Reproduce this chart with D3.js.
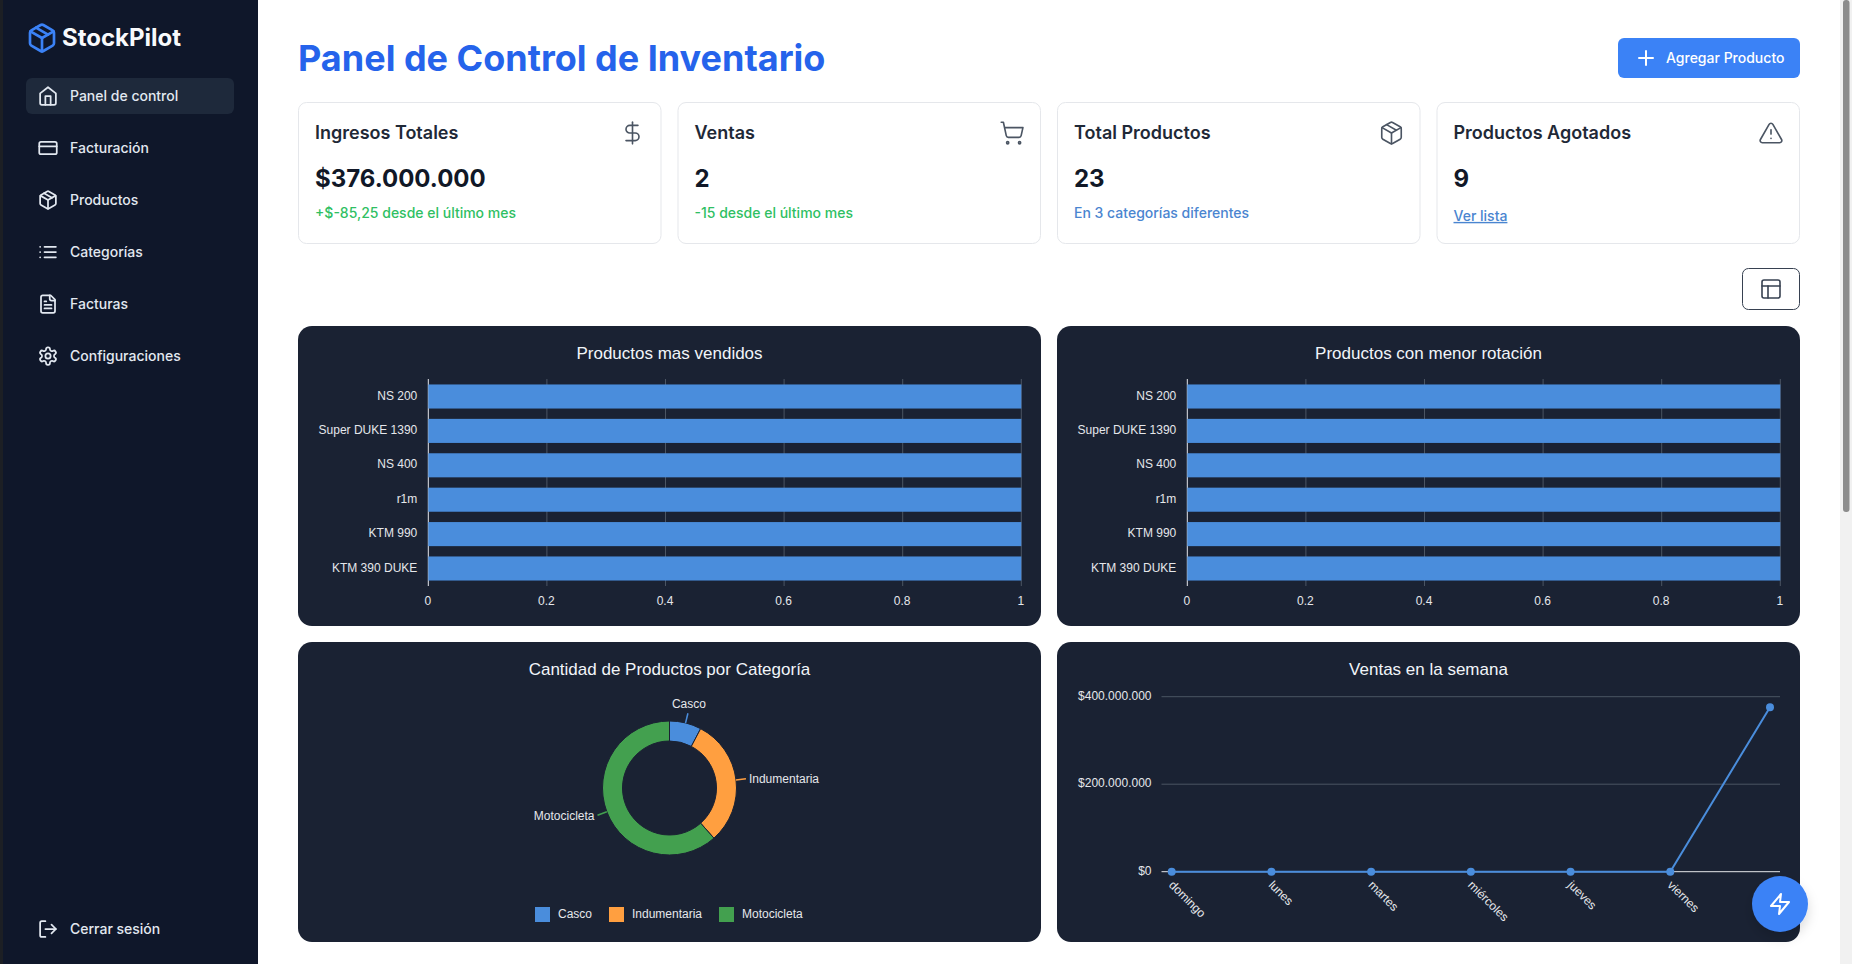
<!DOCTYPE html>
<html>
<head>
<meta charset="utf-8">
<title>StockPilot</title>
<script src="https://cdn.jsdelivr.net/npm/d3@7"></script>
<style>
  html, body { margin: 0; padding: 0; background: #fff; overflow: hidden; }
  svg { display: block; }
  text { font-family: Inter, sans-serif; }
  .chart text { font-family: "Liberation Sans", Arial, sans-serif; }
  .icon path { fill: none; stroke-linecap: round; stroke-linejoin: round; }
</style>
</head>
<body>
<svg id="page" width="1852" height="964"></svg>
<script>
// ---- data ----
const navLabels = ["Panel de control", "Facturación", "Productos", "Categorías", "Facturas", "Configuraciones"];
const navIcons = ["home", "card", "box", "list", "file", "gear"];

const cardTitles = ["Ingresos Totales", "Ventas", "Total Productos", "Productos Agotados"];
const cardValues = ["$376.000.000", "2", "23", "9"];
const cardNotes = ["+$-85,25 desde el último mes", "-15 desde el último mes", "En 3 categorías diferentes", "Ver lista"];
const cardIcons = ["dollar", "cart", "box", "alert"];

const products = ["NS 200", "Super DUKE 1390", "NS 400", "r1m", "KTM 990", "KTM 390 DUKE"];
const topSold = [1, 1, 1, 1, 1, 1];
const lowRotation = [1, 1, 1, 1, 1, 1];
const barTicks = [0, 0.2, 0.4, 0.6, 0.8, 1];

const categories = ["Casco", "Indumentaria", "Motocicleta"];
const categoryCounts = [2, 8, 16];

const weekDays = ["domingo", "lunes", "martes", "miércoles", "jueves", "viernes", "sábado"];
const weekSales = [0, 0, 0, 0, 0, 0, 376000000];
const salesTicks = [0, 200000000, 400000000];

// lucide style icons, 24x24 box
const ICONS = {
  home: ["m3 9 9-7 9 7v11a2 2 0 0 1-2 2H5a2 2 0 0 1-2-2z", "M9 22V12h6v10"],
  card: ["M4 5h16a2 2 0 0 1 2 2v10a2 2 0 0 1-2 2H4a2 2 0 0 1-2-2V7a2 2 0 0 1 2-2z", "M2 10h20"],
  box: ["m7.5 4.27 9 5.15", "M21 8a2 2 0 0 0-1-1.73l-7-4a2 2 0 0 0-2 0l-7 4A2 2 0 0 0 3 8v8a2 2 0 0 0 1 1.73l7 4a2 2 0 0 0 2 0l7-4A2 2 0 0 0 21 16Z", "m3.3 7 8.7 5 8.7-5", "M12 22V12"],
  list: ["M8 6h13", "M8 12h13", "M8 18h13", "M3 6h.01", "M3 12h.01", "M3 18h.01"],
  file: ["M15 2H6a2 2 0 0 0-2 2v16a2 2 0 0 0 2 2h12a2 2 0 0 0 2-2V7Z", "M14 2v4a2 2 0 0 0 2 2h4", "M10 9H8", "M16 13H8", "M16 17H8"],
  gear: ["M12.22 2h-.44a2 2 0 0 0-2 2v.18a2 2 0 0 1-1 1.73l-.43.25a2 2 0 0 1-2 0l-.15-.08a2 2 0 0 0-2.73.73l-.22.38a2 2 0 0 0 .73 2.73l.15.1a2 2 0 0 1 1 1.72v.51a2 2 0 0 1-1 1.74l-.15.09a2 2 0 0 0-.73 2.73l.22.38a2 2 0 0 0 2.73.73l.15-.08a2 2 0 0 1 2 0l.43.25a2 2 0 0 1 1 1.73V20a2 2 0 0 0 2 2h.44a2 2 0 0 0 2-2v-.18a2 2 0 0 1 1-1.73l.43-.25a2 2 0 0 1 2 0l.15.08a2 2 0 0 0 2.73-.73l.22-.39a2 2 0 0 0-.73-2.73l-.15-.08a2 2 0 0 1-1-1.74v-.5a2 2 0 0 1 1-1.74l.15-.09a2 2 0 0 0 .73-2.73l-.22-.38a2 2 0 0 0-2.73-.73l-.15.08a2 2 0 0 1-2 0l-.43-.25a2 2 0 0 1-1-1.73V4a2 2 0 0 0-2-2z", "M9 12a3 3 0 1 0 6 0a3 3 0 1 0-6 0"],
  logout: ["M9 21H5a2 2 0 0 1-2-2V5a2 2 0 0 1 2-2h4", "m16 17 5-5-5-5", "M21 12H9"],
  dollar: ["M12 2v20", "M17 5H9.5a3.5 3.5 0 0 0 0 7h5a3.5 3.5 0 0 1 0 7H6"],
  cart: ["M7 21a1 1 0 1 0 2 0a1 1 0 1 0-2 0", "M18 21a1 1 0 1 0 2 0a1 1 0 1 0-2 0", "M2.05 2.05h2l2.66 12.42a2 2 0 0 0 2 1.58h9.78a2 2 0 0 0 1.95-1.57l1.65-7.43H5.12"],
  alert: ["m21.73 18-8-14a2 2 0 0 0-3.48 0l-8 14A2 2 0 0 0 4 21h16a2 2 0 0 0 1.73-3", "M12 9v4", "M12 17h.01"],
  plus: ["M5 12h14", "M12 5v14"],
  layout: ["M5 3h14a2 2 0 0 1 2 2v14a2 2 0 0 1-2 2H5a2 2 0 0 1-2-2V5a2 2 0 0 1 2-2z", "M3 9h18", "M9 21V9"],
  zap: ["M13 2 3 14h9l-1 8 10-12h-9l1-8z"]
};

const BLUE = "#4a8ddc", ORANGE = "#ff9f40", GREEN = "#43a04f";
const PANEL = "#1a2233", LABEL = "#e5e7eb", GRID = "#4b5563";

const svg = d3.select("#page");

function icon(parent, name, cx, cy, color, size, sw) {
  const k = (size || 24) / 24;
  const g = parent.append("g")
    .attr("class", "icon")
    .attr("transform", `translate(${cx - 12 * k},${cy - 12 * k}) scale(${k})`);
  g.selectAll("path").data(ICONS[name]).enter().append("path")
    .attr("d", d => d)
    .attr("stroke", color)
    .attr("stroke-width", sw || 2);
  return g;
}

// ---- sidebar ----
svg.append("rect").attr("width", 3).attr("height", 964).attr("fill", "#1c1f24");
svg.append("rect").attr("x", 3).attr("width", 255).attr("height", 964).attr("fill", "#0f172a");
icon(svg, "box", 42, 38, "#3b82f6", 32, 2);
svg.append("text").attr("x", 62).attr("y", 46).attr("font-size", 24).attr("font-weight", 700)
  .attr("fill", "#f8fafc").text("StockPilot");
svg.append("rect").attr("x", 26).attr("y", 78).attr("width", 208).attr("height", 36).attr("rx", 6).attr("fill", "#1e293b");

const navY = d3.scalePoint().domain(navLabels).range([96, 356]);
navLabels.forEach((d, i) => {
  icon(svg, navIcons[i], 48, navY(d), "#e2e8f0", 21, 2);
  svg.append("text").attr("x", 70).attr("y", navY(d)).attr("dy", "0.35em")
    .attr("font-size", 14).attr("font-weight", 500).attr("fill", "#e2e8f0").text(d);
});
icon(svg, "logout", 48, 929, "#e2e8f0", 21, 2);
svg.append("text").attr("x", 70).attr("y", 929).attr("dy", "0.35em")
  .attr("font-size", 14).attr("font-weight", 500).attr("fill", "#e2e8f0").text("Cerrar sesión");

// ---- header ----
svg.append("text").attr("x", 298).attr("y", 71).attr("font-size", 36).attr("font-weight", 700)
  .attr("fill", "#2563eb").text("Panel de Control de Inventario");
svg.append("rect").attr("x", 1618).attr("y", 38).attr("width", 182).attr("height", 40).attr("rx", 6).attr("fill", "#3b82f6");
icon(svg, "plus", 1646, 58, "#fff", 24, 2);
svg.append("text").attr("x", 1666).attr("y", 58).attr("dy", "0.35em").attr("font-size", 14).attr("font-weight", 500)
  .attr("fill", "#fff").text("Agregar Producto");

// ---- stat cards ----
const cardX = d3.scaleBand().domain(cardTitles).range([298, 1800]).paddingInner(16 / 379.5);
cardTitles.forEach((t, i) => {
  const x = cardX(t), w = cardX.bandwidth();
  const g = svg.append("g").attr("transform", `translate(${x},0)`);
  g.append("rect").attr("x", 0.5).attr("y", 102.5).attr("width", w - 1).attr("height", 141).attr("rx", 8)
    .attr("fill", "#fff").attr("stroke", "#e5e7eb");
  g.append("text").attr("x", 17).attr("y", 133).attr("dy", "0.35em").attr("font-size", 18).attr("font-weight", 600)
    .attr("fill", "#1f2937").text(t);
  g.append("text").attr("x", 17).attr("y", 187).attr("font-size", 24).attr("font-weight", 700)
    .attr("fill", "#111827").text(cardValues[i]);
  const link = i === 3;
  g.append("text").attr("x", 17).attr("y", link ? 216 : 213).attr("dy", "0.35em").attr("font-size", 14)
    .attr("font-weight", 450)
    .attr("fill", i < 2 ? "#2fbf63" : "#4a85d0")
    .attr("text-decoration", link ? "underline" : null).text(cardNotes[i]);
  icon(g, cardIcons[i], w - 29, 133, "#4b5563", 26, 1.5);
});

// view toggle
svg.append("rect").attr("x", 1742.5).attr("y", 268.5).attr("width", 57).attr("height", 41).attr("rx", 6)
  .attr("fill", "#fff").attr("stroke", "#374151");
icon(svg, "layout", 1771, 289, "#374151", 24, 1.6);

// ---- chart panels ----
function panel(x, y, title) {
  const g = svg.append("g").attr("class", "chart").attr("transform", `translate(${x},${y})`);
  g.append("rect").attr("width", 743).attr("height", 300).attr("rx", 14).attr("fill", PANEL);
  g.append("text").attr("x", 371.5).attr("y", 27).attr("dy", "0.35em").attr("text-anchor", "middle")
    .attr("font-size", 17).attr("fill", "#f1f5f9").text(title);
  return g;
}

function barChart(x, y, title, values) {
  const g = panel(x, y, title);
  const xScale = d3.scaleLinear().domain([0, 1]).range([130.3, 723.3]);
  const yScale = d3.scaleBand().domain(products).range([53.3, 259.7]).paddingInner(0.3).paddingOuter(0.15);

  // grid under the bars
  g.append("g").selectAll("line").data(barTicks).enter().append("line")
    .attr("x1", d => xScale(d)).attr("x2", d => xScale(d))
    .attr("y1", 53).attr("y2", 260)
    .attr("stroke", d => d === 0 ? LABEL : GRID);

  g.selectAll(".bar").data(values).enter().append("rect")
    .attr("class", "bar")
    .attr("x", xScale(0))
    .attr("y", (d, i) => yScale(products[i]))
    .attr("width", d => xScale(d) - xScale(0))
    .attr("height", yScale.bandwidth())
    .attr("fill", BLUE);

  const ya = g.append("g").attr("transform", "translate(130.3,-0.8)")
    .call(d3.axisLeft(yScale).tickSize(0).tickPadding(11));
  ya.select(".domain").remove();
  ya.selectAll("text").attr("font-size", 12).attr("fill", LABEL);

  const xa = g.append("g").attr("transform", "translate(-1,260.8)")
    .call(d3.axisBottom(xScale).tickValues(barTicks).tickFormat(d3.format("")).tickSize(0).tickPadding(10));
  xa.select(".domain").remove();
  xa.selectAll("text").attr("font-size", 12).attr("fill", LABEL);
}

barChart(298, 326, "Productos mas vendidos", topSold);
barChart(1057, 326, "Productos con menor rotación", lowRotation);

// donut
function donutChart(x, y, title) {
  const g = panel(x, y, title);
  const color = d3.scaleOrdinal().domain(categories).range([BLUE, ORANGE, GREEN]);
  const R = 67, cx = 371.5, cy = 146;
  const pie = d3.pie().sort(null)(categoryCounts);
  const arc = d3.arc().innerRadius(47).outerRadius(R);
  const c = g.append("g").attr("transform", `translate(${cx},${cy})`);
  c.selectAll("path").data(pie).enter().append("path")
    .attr("d", arc)
    .attr("fill", (d, i) => color(categories[i]))
    .attr("stroke", PANEL);

  pie.forEach((d, i) => {
    const a = (d.startAngle + d.endAngle) / 2, sx = Math.sin(a), sy = -Math.cos(a);
    c.append("line")
      .attr("x1", sx * R).attr("y1", sy * R)
      .attr("x2", sx * (R + 10)).attr("y2", sy * (R + 10))
      .attr("stroke", color(categories[i])).attr("stroke-width", 1.5);
    const top = Math.abs(sx) < 0.5;
    c.append("text")
      .attr("x", sx * (R + 10) + (top ? 1 : sx > 0 ? 3 : -3))
      .attr("y", sy * (R + 10) + (top ? -9 : 0))
      .attr("dy", "0.35em")
      .attr("text-anchor", top ? "middle" : sx > 0 ? "start" : "end")
      .attr("font-size", 12).attr("fill", LABEL).text(categories[i]);
  });

  // legend
  const lx = d3.scaleOrdinal().domain(categories).range([237, 311, 421]);
  const lg = g.selectAll(".legend").data(categories).enter().append("g")
    .attr("class", "legend").attr("transform", d => `translate(${lx(d)},265)`);
  lg.append("rect").attr("width", 15).attr("height", 15).attr("fill", d => color(d));
  lg.append("text").attr("x", 23).attr("y", 7).attr("dy", "0.35em")
    .attr("font-size", 12).attr("fill", LABEL).text(d => d);
}
donutChart(298, 642, "Cantidad de Productos por Categoría");

// line
function lineChart(x, y, title) {
  const g = panel(x, y, title);
  const xScale = d3.scalePoint().domain(weekDays).range([114.7, 713]);
  const yScale = d3.scaleLinear().domain([0, 400000000]).range([229.7, 54.7]);
  const money = d => "$" + d3.format(",")(d).replace(/,/g, ".");

  g.append("g").selectAll("line").data(salesTicks).enter().append("line")
    .attr("x1", 104.5).attr("x2", 723)
    .attr("y1", d => yScale(d)).attr("y2", d => yScale(d))
    .attr("stroke", d => d === 0 ? LABEL : GRID);

  const ya = g.append("g").attr("transform", "translate(104.5,-1.5)")
    .call(d3.axisLeft(yScale).tickValues(salesTicks).tickFormat(money).tickSize(0).tickPadding(10));
  ya.select(".domain").remove();
  ya.selectAll("text").attr("font-size", 12).attr("fill", LABEL);

  const xa = g.append("g").attr("transform", "translate(0,229.7)")
    .call(d3.axisBottom(xScale).tickSize(0).tickPadding(0));
  xa.select(".domain").remove();
  xa.selectAll("text")
    .attr("font-size", 12).attr("fill", LABEL)
    .attr("text-anchor", "start").attr("dy", "0")
    .attr("transform", "translate(-4,14) rotate(45)");

  const line = d3.line().x((d, i) => xScale(weekDays[i])).y(d => yScale(d));
  g.append("path").datum(weekSales).attr("d", line).attr("fill", "none").attr("stroke", BLUE).attr("stroke-width", 2);
  g.selectAll(".pt").data(weekSales).enter().append("circle")
    .attr("class", "pt")
    .attr("cx", (d, i) => xScale(weekDays[i])).attr("cy", d => yScale(d)).attr("r", 4)
    .attr("fill", BLUE);
}
lineChart(1057, 642, "Ventas en la semana");

// floating button
const defs = svg.append("defs");
const f = defs.append("filter").attr("id", "fabShadow").attr("x", "-50%").attr("y", "-50%").attr("width", "200%").attr("height", "200%");
f.append("feDropShadow").attr("dx", 0).attr("dy", 6).attr("stdDeviation", 6).attr("flood-color", "#000").attr("flood-opacity", 0.15);
svg.append("circle").attr("cx", 1780).attr("cy", 904).attr("r", 28).attr("fill", "#3b82f6").attr("filter", "url(#fabShadow)");
icon(svg, "zap", 1780, 904, "#fff", 24, 2);

// scrollbar
svg.append("rect").attr("x", 1840).attr("width", 12).attr("height", 964).attr("fill", "#f1f1f1");
svg.append("rect").attr("x", 1843).attr("width", 6.5).attr("height", 512).attr("rx", 3).attr("fill", "#8c8c8c");
</script>
</body>
</html>
